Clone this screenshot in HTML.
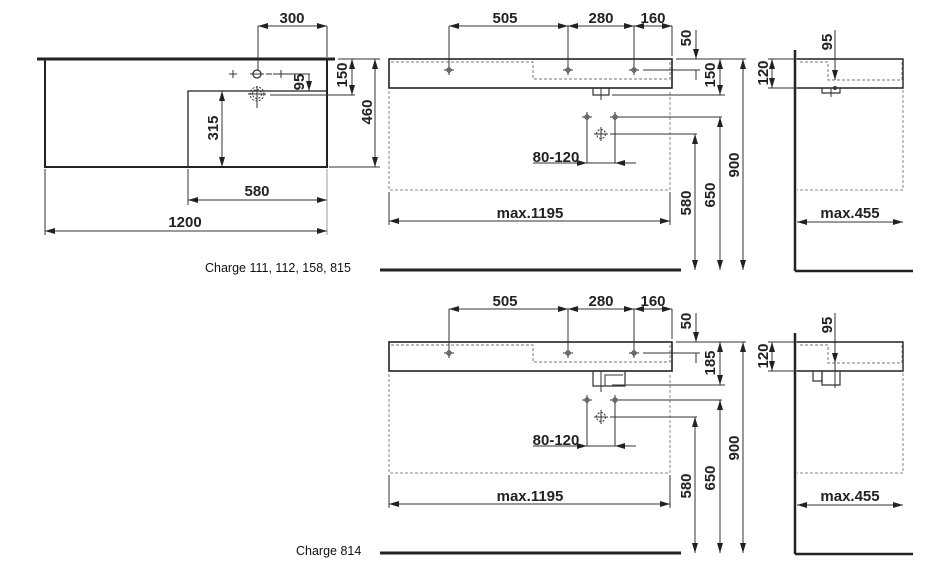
<!DOCTYPE html>
<html><head><meta charset="utf-8"><style>
html,body{margin:0;padding:0;background:#fff;width:934px;height:563px;overflow:hidden}
svg{display:block}
.d{font-family:"Liberation Sans Narrow","Liberation Sans",sans-serif;font-weight:bold;font-size:15px;fill:#222}
.c{font-family:"Liberation Sans",sans-serif;font-size:12.5px;fill:#111}
</style></head><body>
<svg width="934" height="563" viewBox="0 0 934 563" xmlns="http://www.w3.org/2000/svg">
<defs>
<marker id="a" viewBox="0 0 10 6" refX="10" refY="3" markerWidth="10" markerHeight="6" orient="auto-start-reverse" markerUnits="userSpaceOnUse"><path d="M0,0L10,3L0,6z" fill="#222"/></marker>
<g id="cr"><line x1="-5" y1="0" x2="5" y2="0" stroke="#333" stroke-width="1"/><line x1="0" y1="-5" x2="0" y2="5" stroke="#333" stroke-width="1"/><circle r="2.2" fill="none" stroke="#333" stroke-width="0.8"/></g>
<g id="common" stroke="#333" fill="none" stroke-width="1">
  <!-- front basin -->
  <rect x="389" y="59" width="283" height="29" stroke-width="1.6" stroke="#222"/>
  <path d="M391,62H533V79H670V62" stroke-dasharray="3,2" stroke="#777"/>
  <path d="M389,91V190H670V91" stroke-dasharray="3,2" stroke="#888"/>
  <use href="#cr" x="449" y="70"/><use href="#cr" x="568" y="70"/><use href="#cr" x="634" y="70"/>
  <!-- top dims -->
  <line x1="449" y1="26" x2="449" y2="66"/><line x1="568" y1="26" x2="568" y2="66"/><line x1="634" y1="26" x2="634" y2="66"/><line x1="672" y1="26" x2="672" y2="56"/>
  <line x1="449" y1="26" x2="568" y2="26" marker-start="url(#a)" marker-end="url(#a)"/>
  <line x1="568" y1="26" x2="634" y2="26" marker-start="url(#a)" marker-end="url(#a)"/>
  <line x1="634" y1="26" x2="672" y2="26" marker-start="url(#a)" marker-end="url(#a)"/>
  <line x1="696" y1="30" x2="696" y2="59" marker-end="url(#a)"/>
  <line x1="696" y1="70" x2="696" y2="80"/>
  <line x1="643" y1="70" x2="700" y2="70"/>
  <line x1="676" y1="59" x2="746" y2="59"/>
  <!-- lower points -->
  <use href="#cr" x="587" y="117"/><use href="#cr" x="615" y="117"/>
  <circle cx="601" cy="134" r="4.5" stroke-dasharray="2,1.5"/><line x1="594" y1="134" x2="608" y2="134"/><line x1="601" y1="127" x2="601" y2="141"/>
  <line x1="587" y1="121" x2="587" y2="163"/><line x1="615" y1="121" x2="615" y2="163"/>
  <line x1="533" y1="163" x2="587" y2="163" marker-end="url(#a)"/>
  <line x1="636" y1="163" x2="615" y2="163" marker-end="url(#a)"/>
  <line x1="587" y1="163" x2="615" y2="163"/>
  <line x1="620" y1="117" x2="722" y2="117"/>
  <line x1="610" y1="134" x2="697" y2="134"/>
  <line x1="695" y1="134" x2="695" y2="270" marker-start="url(#a)" marker-end="url(#a)"/>
  <line x1="720" y1="117" x2="720" y2="270" marker-start="url(#a)" marker-end="url(#a)"/>
  <line x1="743" y1="59" x2="743" y2="270" marker-start="url(#a)" marker-end="url(#a)"/>
  <line x1="389" y1="192" x2="389" y2="225"/><line x1="670" y1="192" x2="670" y2="225"/>
  <line x1="389" y1="221" x2="670" y2="221" marker-start="url(#a)" marker-end="url(#a)"/>
  <line x1="380" y1="270" x2="681" y2="270" stroke-width="3" stroke="#222"/>
  <!-- side view -->
  <line x1="795" y1="50" x2="795" y2="271" stroke-width="2.5" stroke="#222"/>
  <line x1="795" y1="271" x2="913" y2="271" stroke-width="2.5" stroke="#222"/>
  <path d="M797,59H903V88H797" stroke-width="1.4" stroke="#222"/>
  <path d="M800,62H828V80H902V62" stroke-dasharray="3,2" stroke="#777"/>
  <path d="M903,90V190H797" stroke-dasharray="3,2" stroke="#888"/>
  <line x1="835" y1="30" x2="835" y2="80" marker-end="url(#a)"/>
  <line x1="768" y1="59" x2="797" y2="59"/><line x1="768" y1="88" x2="797" y2="88"/>
  <line x1="772" y1="59" x2="772" y2="88" marker-start="url(#a)" marker-end="url(#a)"/>
  <line x1="797" y1="222" x2="903" y2="222" marker-start="url(#a)" marker-end="url(#a)"/>
</g>
</defs>

<!-- Top view -->
<g stroke="#333" fill="none" stroke-width="1">
  <line x1="37" y1="59" x2="335" y2="59" stroke-width="3" stroke="#222"/>
  <path d="M45,60V167H327V60" stroke-width="2" stroke="#222"/>
  <path d="M188,167V91H327" stroke-width="1.3" stroke="#222"/>
  <line x1="229" y1="74" x2="237" y2="74"/><line x1="233" y1="70" x2="233" y2="78"/>
  <circle cx="257" cy="74" r="4" stroke-width="1.3"/><line x1="250" y1="74" x2="264" y2="74"/>
  <line x1="266" y1="74" x2="272" y2="74"/>
  <line x1="277" y1="74" x2="285" y2="74"/><line x1="281" y1="70" x2="281" y2="78"/>
  <circle cx="257" cy="94" r="7" stroke-dasharray="2,1.5"/><circle cx="257" cy="94" r="4.5" stroke-dasharray="2,1.5"/>
  <line x1="248" y1="94" x2="266" y2="94"/><line x1="257" y1="86" x2="257" y2="108"/>
  <line x1="258" y1="26" x2="258" y2="70"/><line x1="327" y1="26" x2="327" y2="57"/>
  <line x1="258" y1="26" x2="327" y2="26" marker-start="url(#a)" marker-end="url(#a)"/>
  <line x1="338" y1="59" x2="380" y2="59"/>
  <line x1="273" y1="74" x2="310" y2="74"/>
  <line x1="270" y1="95" x2="355" y2="95"/>
  <line x1="329" y1="167" x2="380" y2="167"/>
  <line x1="352" y1="59" x2="352" y2="95" marker-start="url(#a)" marker-end="url(#a)"/>
  <line x1="309" y1="74" x2="309" y2="91" marker-end="url(#a)"/>
  <line x1="375" y1="59" x2="375" y2="167" marker-start="url(#a)" marker-end="url(#a)"/>
  <line x1="222" y1="91" x2="222" y2="167" marker-start="url(#a)" marker-end="url(#a)"/>
  <line x1="45" y1="169" x2="45" y2="235"/><line x1="188" y1="169" x2="188" y2="205"/><line x1="327" y1="169" x2="327" y2="235" stroke="#999"/>
  <line x1="188" y1="200" x2="327" y2="200" marker-start="url(#a)" marker-end="url(#a)"/>
  <line x1="45" y1="231" x2="327" y2="231" marker-start="url(#a)" marker-end="url(#a)"/>
</g>
<g class="d">
  <text x="292" y="23" text-anchor="middle">300</text>
  <text x="257" y="196" text-anchor="middle">580</text>
  <text x="185" y="227" text-anchor="middle">1200</text>
  <text transform="translate(347,75) rotate(-90)" text-anchor="middle">150</text>
  <text transform="translate(304,82) rotate(-90)" text-anchor="middle">95</text>
  <text transform="translate(372,112) rotate(-90)" text-anchor="middle">460</text>
  <text transform="translate(218,128) rotate(-90)" text-anchor="middle">315</text>
</g>

<!-- Upper front/side -->
<use href="#common"/>
<g stroke="#333" fill="none" stroke-width="1">
  <path d="M593,88V95H609V88" stroke-width="1.2"/><line x1="601" y1="88" x2="601" y2="100"/>
  <line x1="612" y1="95" x2="725" y2="95"/>
  <line x1="720" y1="59" x2="720" y2="95" marker-start="url(#a)" marker-end="url(#a)"/>
  <path d="M822,88V93H840V88" stroke-width="1.2"/><line x1="831" y1="88" x2="831" y2="97"/><circle cx="835" cy="88" r="1.5" fill="#333"/>
</g>
<g class="d">
  <text x="505" y="23" text-anchor="middle">505</text>
  <text x="601" y="23" text-anchor="middle">280</text>
  <text x="653" y="23" text-anchor="middle">160</text>
  <text x="556" y="162" text-anchor="middle">80-120</text>
  <text x="530" y="218" text-anchor="middle">max.1195</text>
  <text x="850" y="218" text-anchor="middle">max.455</text>
  <text transform="translate(691,38) rotate(-90)" text-anchor="middle">50</text>
  <text transform="translate(715,75) rotate(-90)" text-anchor="middle">150</text>
  <text transform="translate(691,203) rotate(-90)" text-anchor="middle">580</text>
  <text transform="translate(715,195) rotate(-90)" text-anchor="middle">650</text>
  <text transform="translate(739,165) rotate(-90)" text-anchor="middle">900</text>
  <text transform="translate(832,42) rotate(-90)" text-anchor="middle">95</text>
  <text transform="translate(768,73) rotate(-90)" text-anchor="middle">120</text>
</g>
<text class="c" x="205" y="272">Charge 111, 112, 158, 815</text>

<!-- Lower front/side -->
<g transform="translate(0,283)">
<use href="#common"/>
<g stroke="#333" fill="none" stroke-width="1">
  <path d="M593,88V103H625V88" stroke-width="1.2"/><path d="M605,103V92H623" stroke-width="1"/>
  <line x1="601" y1="88" x2="601" y2="109"/>
  <line x1="612" y1="102" x2="725" y2="102"/>
  <line x1="720" y1="59" x2="720" y2="102" marker-start="url(#a)" marker-end="url(#a)"/>
  <path d="M813,88V98H822V88" stroke-width="1.2"/><path d="M822,88V102H840V88" stroke-width="1.2"/><line x1="835" y1="80" x2="835" y2="105"/>
</g>
<g class="d">
  <text x="505" y="23" text-anchor="middle">505</text>
  <text x="601" y="23" text-anchor="middle">280</text>
  <text x="653" y="23" text-anchor="middle">160</text>
  <text x="556" y="162" text-anchor="middle">80-120</text>
  <text x="530" y="218" text-anchor="middle">max.1195</text>
  <text x="850" y="218" text-anchor="middle">max.455</text>
  <text transform="translate(691,38) rotate(-90)" text-anchor="middle">50</text>
  <text transform="translate(715,80) rotate(-90)" text-anchor="middle">185</text>
  <text transform="translate(691,203) rotate(-90)" text-anchor="middle">580</text>
  <text transform="translate(715,195) rotate(-90)" text-anchor="middle">650</text>
  <text transform="translate(739,165) rotate(-90)" text-anchor="middle">900</text>
  <text transform="translate(832,42) rotate(-90)" text-anchor="middle">95</text>
  <text transform="translate(768,73) rotate(-90)" text-anchor="middle">120</text>
</g>
</g>
<text class="c" x="296" y="555">Charge 814</text>
</svg>
</body></html>
